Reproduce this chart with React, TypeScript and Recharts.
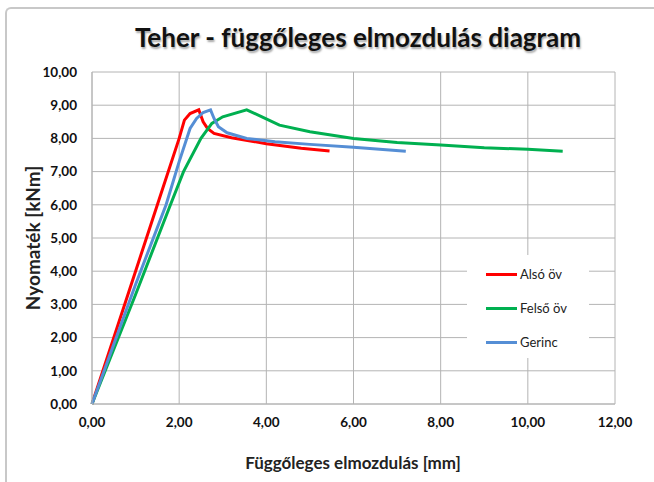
import React from 'react';
import { LineChart, Line, XAxis, YAxis, CartesianGrid } from 'recharts';

const titleText = 'Teher - függőleges elmozdulás diagram';
const xTitle = 'Függőleges elmozdulás [mm]';
const yTitle = 'Nyomaték [kNm]';

const xTicks = [0, 2, 4, 6, 8, 10, 12];
const yTicks = [0, 1, 2, 3, 4, 5, 6, 7, 8, 9, 10];

const alsoX = [0, 1.0, 1.5, 2.0, 2.12, 2.25, 2.45, 2.55, 2.65, 2.8, 3.2, 4.0, 4.8, 5.45];
const alsoY = [0, 4.0, 6.0, 8.0, 8.55, 8.75, 8.86, 8.5, 8.3, 8.15, 8.02, 7.84, 7.7, 7.62];

const felsoX = [0, 1.0, 1.8, 2.1, 2.5, 2.75, 3.0, 3.55, 3.9, 4.3, 5.0, 6.0, 7.0, 8.0, 9.0, 10.0, 10.8];
const felsoY = [0, 3.3, 6.0, 7.0, 8.0, 8.45, 8.65, 8.86, 8.65, 8.4, 8.2, 8.0, 7.88, 7.8, 7.72, 7.67, 7.61];

const gerincX = [0, 1.0, 1.7, 2.0, 2.25, 2.4, 2.55, 2.72, 2.8, 2.9, 3.1, 3.55, 4.2, 5.0, 6.0, 7.2];
const gerincY = [0, 3.6, 6.0, 7.3, 8.3, 8.6, 8.78, 8.86, 8.6, 8.35, 8.17, 8.0, 7.9, 7.82, 7.73, 7.61];

const seriesNames = ['Alsó öv', 'Felső öv', 'Gerinc'];
const seriesColors = ['#ff0000', '#00b050', '#558ed5'];

const toPts = (xs: number[], ys: number[]) => xs.map((x, i) => ({ x, y: ys[i] }));
const seriesData = [toPts(alsoX, alsoY), toPts(felsoX, felsoY), toPts(gerincX, gerincY)];

const fmt = (v: number) => v.toFixed(2).replace('.', ',');
const FONT = 'Lato, "Open Sans", sans-serif';

export default function App() {
  return (
    <div style={{ position: 'absolute', left: 0, top: 0, width: 654, height: 482, background: '#fff', fontFamily: FONT, overflow: 'hidden' }}>
      <div style={{ position: 'absolute', left: 5, top: 7, width: 660, height: 490, borderTop: '2px solid #c8c8c8', borderLeft: '2px solid #c8c8c8', borderTopLeftRadius: 6 }} />
      <div style={{ position: 'absolute', left: 0, top: 21, width: 716, textAlign: 'center', fontSize: 26, fontWeight: 700, color: '#111', textShadow: '1px 2px 2px rgba(0,0,0,0.35)' }}>{titleText}</div>
      <div style={{ position: 'absolute', left: 0, top: 452, width: 706, textAlign: 'center', fontSize: 17, fontWeight: 700, color: '#222' }}>{xTitle}</div>
      <div style={{ position: 'absolute', left: 32, top: 238, transform: 'translate(-50%, -50%) rotate(-90deg)', whiteSpace: 'nowrap', fontSize: 19, fontWeight: 700, color: '#222' }}>{yTitle}</div>
      <div style={{ position: 'absolute', left: 0, top: 0 }}>
        <LineChart width={654} height={482} margin={{ top: 72, right: 39, bottom: 48, left: 32 }}>
          <CartesianGrid stroke="#b4b4b4" strokeWidth={1} />
          <XAxis type="number" dataKey="x" domain={[0, 12]} ticks={xTicks} tickFormatter={fmt} height={30}
            axisLine={{ stroke: '#b4b4b4' }} tickLine={false} tickSize={6} tickMargin={7}
            tick={{ fill: '#111', fontSize: 13.5, fontWeight: 700, fontFamily: FONT }} allowDuplicatedCategory={false} />
          <YAxis type="number" dataKey="y" domain={[0, 10]} ticks={yTicks} tickFormatter={fmt} width={60}
            axisLine={{ stroke: '#b4b4b4' }} tickLine={false} tickSize={6} tickMargin={9}
            tick={{ fill: '#111', fontSize: 13.5, fontWeight: 700, fontFamily: FONT }} />
          {seriesData.map((d, i) => (
            <Line key={seriesNames[i]} data={d} dataKey="y" name={seriesNames[i]} type="linear" stroke={seriesColors[i]}
              strokeWidth={3} dot={false} isAnimationActive={false} />
          ))}
        </LineChart>
      </div>
      <div style={{ position: 'absolute', left: 467, top: 255, width: 122, height: 103, background: '#fff' }}>
        {seriesNames.map((n, i) => (
          <div key={n} style={{ position: 'absolute', left: 19, top: 10 + i * 34, height: 18, display: 'flex', alignItems: 'center' }}>
            <div style={{ width: 31, height: 3, background: seriesColors[i], marginRight: 3 }} />
            <span style={{ fontSize: 13, color: '#222' }}>{n}</span>
          </div>
        ))}
      </div>
    </div>
  );
}
